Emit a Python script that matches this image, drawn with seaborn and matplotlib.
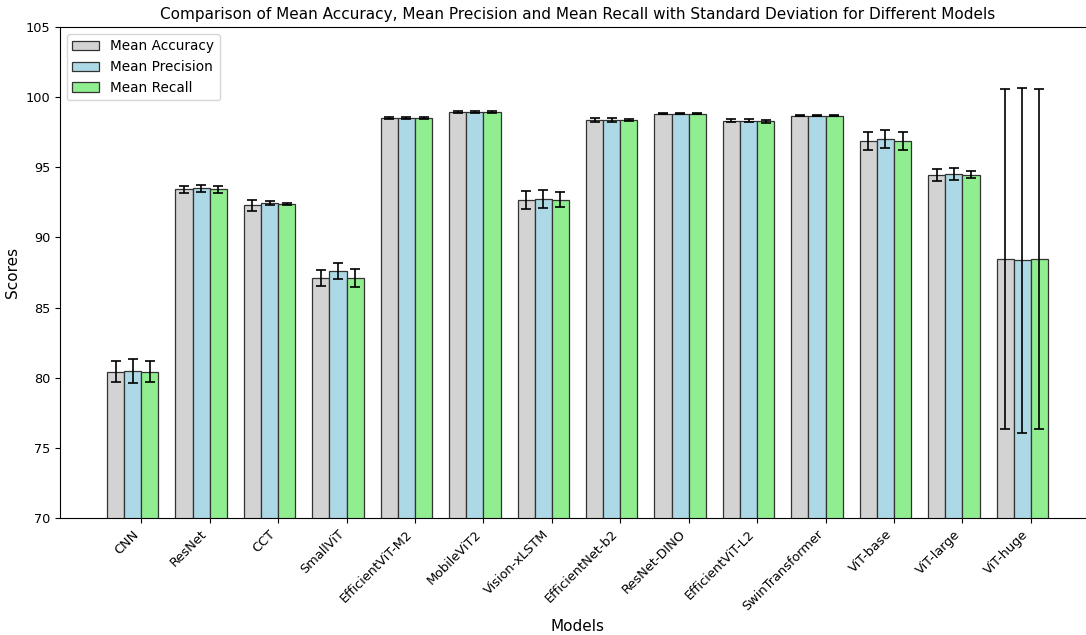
import matplotlib
matplotlib.use("Agg")
import matplotlib.pyplot as plt
import seaborn as sns
import numpy as np
import pandas as pd

# 模型名称
models = ['CNN', 'ResNet', 'CCT', 'SmallViT', 'EfficientViT-M2', 'MobileViT2',
          'Vision-xLSTM', 'EfficientNet-b2', 'ResNet-DINO', 'EfficientViT-L2',
          'SwinTransformer', 'ViT-base', 'ViT-large', 'ViT-huge']

# 平均值
mean_acc = [80.43, 93.42, 92.29, 87.13, 98.49, 98.94, 92.69, 98.37, 98.82, 98.32, 98.68, 96.89, 94.47, 88.48]
mean_prec = [80.50, 93.50, 92.45, 87.63, 98.49, 98.94, 92.76, 98.37, 98.82, 98.32, 98.68, 96.99, 94.54, 88.36]
mean_rec = [80.43, 93.42, 92.38, 87.13, 98.49, 98.94, 92.69, 98.37, 98.82, 98.28, 98.68, 96.89, 94.47, 88.48]

# 标准差
std_acc = [0.76, 0.24, 0.38, 0.58, 0.06, 0.06, 0.65, 0.12, 0.02, 0.12, 0.05, 0.65, 0.42, 12.12]
std_prec = [0.86, 0.23, 0.17, 0.58, 0.06, 0.06, 0.64, 0.12, 0.02, 0.12, 0.05, 0.65, 0.44, 12.32]
std_rec = [0.76, 0.22, 0.08, 0.65, 0.06, 0.06, 0.55, 0.08, 0.02, 0.10, 0.05, 0.65, 0.24, 12.12]

metrics = ['Mean Accuracy', 'Mean Precision', 'Mean Recall']
colors = ['lightgray', 'lightblue', 'lightgreen']

df = pd.DataFrame({
    'Model': models * 3,
    'Metric': np.repeat(metrics, len(models)),
    'Score': mean_acc + mean_prec + mean_rec,
})

fig = plt.figure(figsize=(10.86, 6.35), dpi=100)
ax = fig.add_axes([60 / 1086, 117 / 635, 1035 / 1086, 491 / 635])

sns.barplot(data=df, x='Model', y='Score', hue='Metric', order=models, hue_order=metrics,
            palette=dict(zip(metrics, colors)), saturation=1, width=0.75,
            errorbar=None, edgecolor='#333333', linewidth=0.9, ax=ax)

# 误差线
w = 0.25
x = np.arange(len(models))
for j, (m, s) in enumerate([(mean_acc, std_acc), (mean_prec, std_prec), (mean_rec, std_rec)]):
    ax.errorbar(x + (j - 1) * w, m, yerr=s, fmt='none', ecolor='black',
                elinewidth=1.2, capsize=3.6, capthick=1.2)

ax.set_ylim(70, 105)
ax.set_xlim(-1.0625, 14.0625)
ax.set_xticks(x + w / 2)
ax.set_xticklabels(models, rotation=45, ha='right')
ax.tick_params(axis='both', labelsize=9.3)

ax.set_title('Comparison of Mean Accuracy, Mean Precision and Mean Recall with Standard Deviation for Different Models',
             fontsize=11)
ax.set_xlabel('Models', fontsize=11)
ax.set_ylabel('Scores', fontsize=11)
ax.legend(loc='upper left', fontsize=9.8)

plt.savefig('out.png', dpi=100)
